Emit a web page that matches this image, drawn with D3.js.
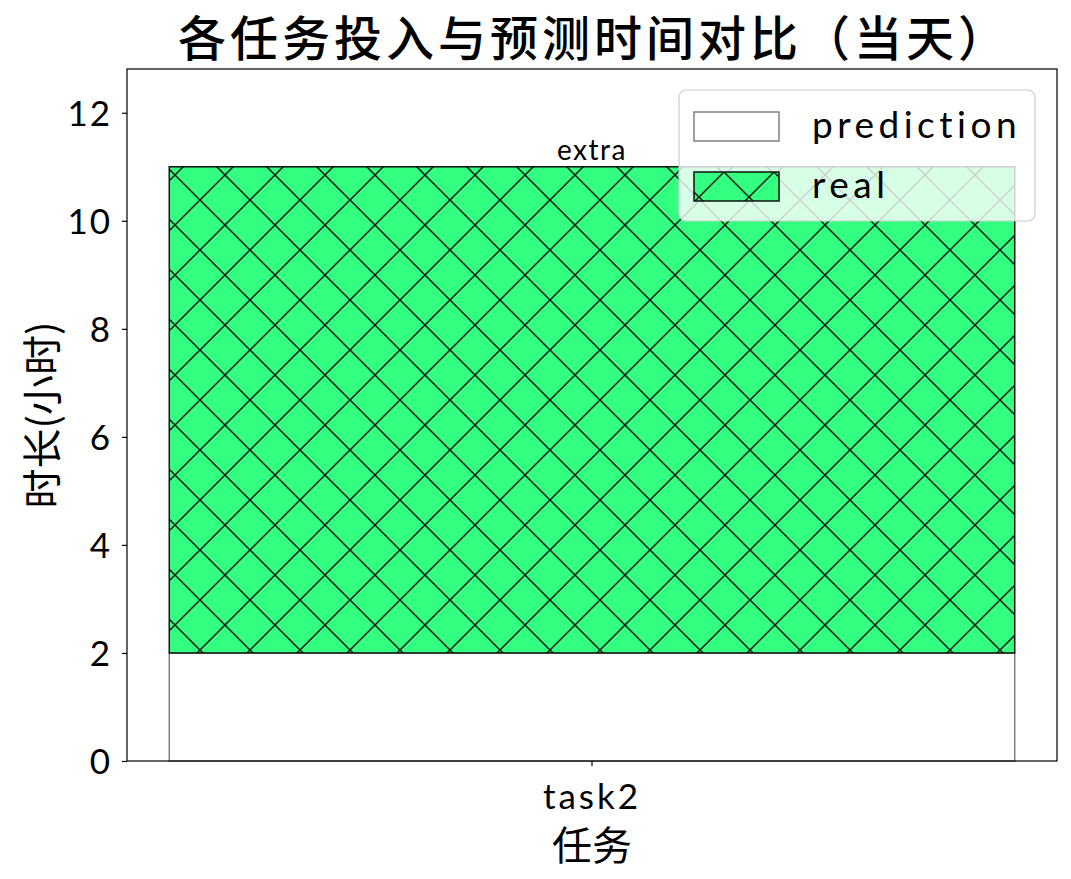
<!DOCTYPE html>
<html>
<head>
<meta charset="utf-8">
<script src="https://cdn.jsdelivr.net/npm/d3@7"></script>
<style>
  html, body { margin: 0; padding: 0; background: #fff; }
  svg { display: block; }
  .lat { font-family: 'URW Gothic', 'Century Gothic', Lato, 'Noto Sans CJK SC', sans-serif; }
  .cjk { font-family: 'Noto Sans CJK SC', sans-serif; }
</style>
</head>
<body>
<svg id="chart" width="1071" height="879"></svg>
<script>
// ---- data ----
const categories = ["task2"];
const prediction = [2];
const real = [11];
const barLabels = ["extra"];
const yTicks = [0, 2, 4, 6, 8, 10, 12];
const seriesNames = ["prediction", "real"];
const titleText = "各任务投入与预测时间对比（当天）";
const xLabelText = "任务";
const yLabelText = "时长(小时)";

// ---- layout ----
const W = 1071, H = 879;
const plot = { left: 127, right: 1057, top: 69, bottom: 761 };
const green = "#33ff80";

const svg = d3.select("#chart");

const defs = svg.append("defs");
function hatch(id, dx, dy) {
  const p = defs.append("pattern")
    .attr("id", id)
    .attr("patternUnits", "userSpaceOnUse")
    .attr("width", 50).attr("height", 50)
    .attr("patternTransform", `translate(${dx},${dy})`);
  p.append("path")
    .attr("d", "M-10,-10L60,60M-10,60L60,-10")
    .attr("stroke", "#0d1a10").attr("stroke-width", 1.5).attr("fill", "none");
}
hatch("hatchBar", 0, 0);
hatch("hatchLeg", -1, -3);

const x = d3.scaleBand().domain(categories)
  .range([plot.left, plot.right]).paddingInner(0).paddingOuter(0.05);
const y = d3.scaleLinear().domain([0, 12.81]).range([plot.bottom, plot.top]);

// prediction bars
svg.append("g").selectAll("rect").data(categories).join("rect")
  .attr("x", d => x(d)).attr("width", x.bandwidth())
  .attr("y", (d, i) => y(prediction[i]))
  .attr("height", (d, i) => y(0) - y(prediction[i]))
  .attr("fill", "#fff").attr("stroke", "#808080").attr("stroke-width", 1.5);

// real bars (stacked on top of prediction)
const rg = svg.append("g");
rg.selectAll("rect.fill").data(categories).join("rect").attr("class", "fill")
  .attr("x", d => x(d)).attr("width", x.bandwidth())
  .attr("y", (d, i) => y(real[i]))
  .attr("height", (d, i) => y(prediction[i]) - y(real[i]))
  .attr("fill", green);
rg.selectAll("rect.hatch").data(categories).join("rect").attr("class", "hatch")
  .attr("x", d => x(d)).attr("width", x.bandwidth())
  .attr("y", (d, i) => y(real[i]))
  .attr("height", (d, i) => y(prediction[i]) - y(real[i]))
  .attr("fill", "url(#hatchBar)").attr("stroke", "#111").attr("stroke-width", 1.5);

// bar labels
svg.append("g").selectAll("text").data(categories).join("text")
  .attr("class", "lat")
  .attr("x", d => x(d) + x.bandwidth() / 2)
  .attr("y", (d, i) => y(real[i]) - 7)
  .attr("text-anchor", "middle")
  .attr("font-size", 28).attr("letter-spacing", 1.5)
  .text((d, i) => barLabels[i]);

// axes
const yAxis = svg.append("g").attr("transform", `translate(${plot.left},0)`)
  .call(d3.axisLeft(y).tickValues(yTicks).tickSize(5).tickPadding(10).tickFormat(d3.format("d")));
const xAxis = svg.append("g").attr("transform", `translate(0,${plot.bottom})`)
  .call(d3.axisBottom(x).tickSize(5).tickPadding(6));
[yAxis, xAxis].forEach(a => {
  a.select(".domain").remove();
  a.selectAll("line").attr("stroke", "#000").attr("stroke-width", 1.2);
  a.selectAll("text").attr("class", "lat").attr("font-size", 35).attr("fill", "#000")
    .attr("font-family", null);
});
yAxis.selectAll("text").attr("dy", "0.36em").attr("letter-spacing", 2);
xAxis.selectAll("text").attr("dy", "1.05em").attr("letter-spacing", 3);

// frame
svg.append("rect")
  .attr("x", plot.left).attr("y", plot.top)
  .attr("width", plot.right - plot.left).attr("height", plot.bottom - plot.top)
  .attr("fill", "none").attr("stroke", "#000").attr("stroke-width", 1.2);

// title & labels
svg.append("text").attr("class", "cjk")
  .attr("x", 178).attr("y", 56)
  .attr("font-size", 48).attr("font-weight", 500).attr("letter-spacing", 4)
  .text(titleText);
svg.append("text").attr("class", "cjk")
  .attr("x", x(categories[0]) + x.bandwidth() / 2).attr("y", 860)
  .attr("text-anchor", "middle").attr("font-size", 40)
  .text(xLabelText);
svg.append("text").attr("class", "cjk")
  .attr("transform", `translate(57,${(plot.top + plot.bottom) / 2}) rotate(-90)`)
  .attr("text-anchor", "middle").attr("font-size", 40)
  .text(yLabelText);

// legend
const lg = svg.append("g");
lg.append("rect").attr("x", 679).attr("y", 90).attr("width", 356).attr("height", 131)
  .attr("rx", 7).attr("fill", "#fff").attr("fill-opacity", 0.8)
  .attr("stroke", "#cccccc").attr("stroke-width", 1.2);
const legItems = seriesNames.map((n, i) => ({ name: n, i }));
legItems.forEach(it => {
  const py = 112 + it.i * 60;
  if (it.name === "prediction") {
    lg.append("rect").attr("x", 694).attr("y", py).attr("width", 85).attr("height", 29)
      .attr("fill", "#fff").attr("stroke", "#808080").attr("stroke-width", 1.5);
  } else {
    lg.append("rect").attr("x", 694).attr("y", py).attr("width", 85).attr("height", 29)
      .attr("fill", green);
    lg.append("rect").attr("x", 694).attr("y", py).attr("width", 85).attr("height", 29)
      .attr("fill", "url(#hatchLeg)").attr("stroke", "#111").attr("stroke-width", 1.5);
  }
  lg.append("text").attr("class", "lat")
    .attr("x", 812).attr("y", py + 26)
    .attr("font-size", 37).attr("letter-spacing", 4.5)
    .text(it.name);
});
</script>
</body>
</html>
